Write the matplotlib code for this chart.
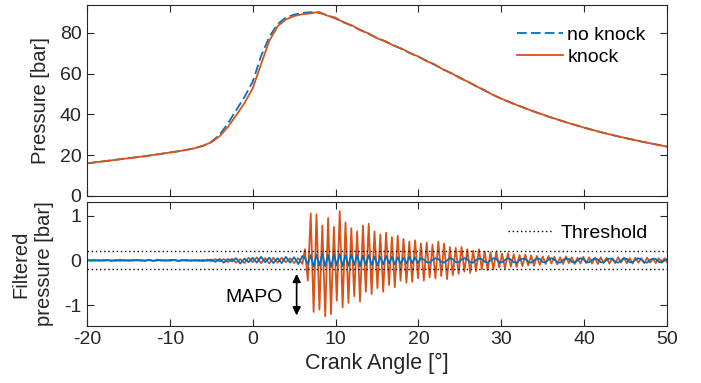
import matplotlib
matplotlib.use('Agg')
import matplotlib.pyplot as plt
import numpy as np

plt.rcParams['font.family'] = ['Liberation Sans', 'DejaVu Sans']
plt.rcParams['axes.unicode_minus'] = False
plt.rcParams['lines.scale_dashes'] = False

# --- cylinder pressure, 1 deg steps (-20 .. 50) ---
uhel = np.arange(-20, 51)
p_noknock = [16.0, 16.5, 17.0, 17.5, 18.0, 18.5, 19.0, 19.5, 20.1, 20.7,
             21.3, 21.9, 22.6, 23.4, 24.6, 26.5, 30.0, 35.5, 42.0, 48.5,
             56.0, 68.5, 78.0, 84.2, 87.5, 88.9, 89.7, 90.1, 89.8, 88.6,
             87.0, 85.2, 83.3, 81.4, 79.4, 77.5, 75.7, 73.9, 72.0, 70.1,
             68.2, 66.3, 64.2, 62.1, 60.0, 58.0, 55.9, 53.8, 51.7, 49.6,
             47.7, 46.0, 44.4, 42.8, 41.3, 39.9, 38.5, 37.2, 35.9, 34.7,
             33.5, 32.4, 31.3, 30.3, 29.3, 28.4, 27.5, 26.6, 25.8, 25.0,
             24.2]
p_knock = [16.0, 16.5, 17.0, 17.5, 18.0, 18.5, 19.0, 19.5, 20.1, 20.7,
           21.3, 21.9, 22.6, 23.4, 24.6, 26.3, 29.3, 33.8, 39.5, 45.5,
           52.8, 64.5, 76.0, 83.2, 86.5, 88.2, 89.1, 89.5, 90.2, 88.4,
           87.4, 85.0, 83.6, 81.2, 79.7, 77.3, 75.9, 73.7, 72.2, 69.9,
           68.4, 66.1, 64.4, 61.9, 60.2, 57.8, 56.0, 53.7, 51.8, 49.5,
           47.7, 46.0, 44.4, 42.8, 41.3, 39.9, 38.5, 37.2, 35.9, 34.7,
           33.5, 32.4, 31.3, 30.3, 29.3, 28.4, 27.5, 26.6, 25.8, 25.0,
           24.2]

# --- filtered pressure before knock onset, 0.5 deg steps (-20 .. 6) ---
f_knock_pre = [0.00, 0.01, -0.01, 0.01, -0.01, 0.01, 0.00, -0.01, 0.02, -0.01,
               0.01, -0.01, 0.01, -0.01, 0.00, 0.01, -0.01, 0.02, -0.01, 0.01,
               -0.01, 0.01, -0.01, 0.01, -0.01, 0.01, -0.01, 0.01, -0.02,
               0.02, -0.02, 0.03, -0.02, 0.03, -0.04, 0.04, -0.05, 0.03, -0.06,
               0.06, -0.04, 0.07, -0.06, 0.05, -0.07, 0.06, -0.05, 0.06, -0.04,
               0.05, -0.06, 0.05, -0.08]
f_noknock_pre = [0.01, -0.01, 0.01, -0.01, 0.01, 0.00, -0.01, 0.01, -0.01, 0.01,
                 -0.01, 0.01, 0.00, 0.01, -0.01, 0.01, -0.01, 0.00, 0.01, -0.01,
                 0.01, 0.01, -0.01, 0.00, 0.01, -0.01, 0.01, -0.01, 0.01,
                 -0.01, 0.02, -0.03, 0.03, -0.05, 0.03, -0.02, 0.05, -0.07, 0.04,
                 -0.04, 0.06, -0.05, 0.08, -0.04, 0.06, -0.06, 0.05, -0.06, 0.08,
                 -0.05, 0.07, -0.08, 0.10]

# --- filtered pressure peaks/troughs after onset, every 0.35 deg from 6.3 ---
f_knock_post = [0.25, -0.45, 1.05, -1.15, 1.03, -1.10, 0.78, -1.25, 0.95, -1.20,
                0.75, -0.90, 1.10, -1.05, 0.85, -0.95, 0.72, -0.80, 0.65, -0.92,
                0.78, -0.70, 0.82, -0.75, 0.65, -0.62, 0.58, -0.70, 0.62, -0.55,
                0.52, -0.60, 0.55, -0.45, 0.48, -0.50, 0.42, -0.48, 0.45, -0.40,
                0.38, -0.45, 0.40, -0.38, 0.35, -0.40, 0.42, -0.35, 0.38, -0.42,
                0.30, -0.33, 0.28, -0.30, 0.30, -0.25, 0.25, -0.28, 0.22, -0.24,
                0.25, -0.20, 0.20, -0.22, 0.18, -0.20, 0.20, -0.16, 0.15, -0.18,
                0.16, -0.14, 0.14, -0.15, 0.12, -0.13, 0.13, -0.11, 0.11, -0.12,
                0.10, -0.10, 0.09, -0.08, 0.10, -0.07, 0.08, -0.09, 0.07, -0.08,
                0.09, -0.06, 0.07, -0.08, 0.06, -0.07, 0.08, -0.06, 0.07, -0.07,
                0.06, -0.08, 0.07, -0.05, 0.06, -0.07, 0.05, -0.06, 0.07, -0.05,
                0.06, -0.06, 0.05, -0.07, 0.06, -0.05, 0.05, -0.06, 0.06, -0.05,
                0.04, -0.06, 0.05, -0.04, 0.05, -0.05]
f_noknock_post = [0.05, -0.08, 0.12, -0.14, 0.13, -0.12, 0.15, -0.13, 0.12, -0.15,
                  0.13, -0.11, 0.14, -0.13, 0.12, -0.12, 0.13, -0.10, 0.12, -0.13,
                  0.11, -0.10, 0.12,
                  -0.10, 0.09, -0.11, 0.08, -0.09, 0.10, -0.07, 0.08, -0.09, 0.07,
                  -0.08, 0.06, -0.07, 0.08, -0.06, 0.07, -0.06,
                  0.05, 0.02, -0.04, -0.05, 0.01, 0.05, 0.03, -0.03, -0.05, 0.00,
                  0.05, 0.03, -0.04, -0.04, 0.02, 0.05, 0.02, -0.04, -0.05, 0.01,
                  0.04, 0.03, -0.03, -0.05, 0.00, 0.05, 0.03, -0.04, -0.04, 0.01,
                  0.05, 0.02, -0.04, -0.05, 0.01, 0.04, 0.03, -0.03, -0.05, 0.00,
                  0.05, 0.03, -0.04, -0.04, 0.02, 0.05, 0.02, -0.04, -0.05, 0.01,
                  0.04, 0.03, -0.03, -0.05, 0.00, 0.05, 0.03, -0.04, -0.04, 0.01,
                  0.05, 0.02, -0.04, -0.05, 0.01, 0.04, 0.03, -0.03, -0.05, 0.00,
                  0.05, 0.03, -0.04, -0.04, 0.02, 0.05, 0.02, -0.04, -0.05, 0.01,
                  0.04, 0.03, -0.03, -0.05, 0.00, 0.04]

prah = 0.2        # threshold [bar]
mapo_uhel = 5.3   # where the MAPO arrow sits
mapo_od, mapo_do = -0.30, -1.23

uhel_pre = np.linspace(-20, 6, len(f_knock_pre))
uhel_post = np.linspace(6.3, 6.3 + 0.35 * (len(f_knock_post) - 1), len(f_knock_post))
uhel_f = np.concatenate([uhel_pre, uhel_post])
f_knock = np.concatenate([f_knock_pre, f_knock_post])
f_noknock = np.concatenate([f_noknock_pre, f_noknock_post])

modra = '#0072BD'
oranz = '#D95319'
seda = '#262626'
fs = 14

fig = plt.figure(figsize=(7.01, 3.83), dpi=100)
ax1 = fig.add_axes([0.1241, 0.4883, 0.8274, 0.4986])
ax2 = fig.add_axes([0.1241, 0.1496, 0.8274, 0.3222])

# horni graf - tlak
ax1.plot(uhel, p_noknock, color=modra, lw=1.3, ls=(0, (7, 3)), label='no knock')
ax1.plot(uhel, p_knock, color=oranz, lw=1.3, label='knock')
ax1.set_xlim(-20, 50)
ax1.set_ylim(0, 93.6)
ax1.set_yticks([0, 20, 40, 60, 80])
ax1.set_xticks(range(-20, 51, 10))
ax1.set_xticklabels([])
ax1.set_ylabel('Pressure [bar]', fontsize=fs + 0.5, color=seda, labelpad=7)
ax1.legend(loc='center left', bbox_to_anchor=(0.741, 0.785), frameon=False,
           fontsize=fs, handlelength=2.4, handletextpad=0.2, borderpad=0,
           borderaxespad=0, labelspacing=0.2)

# dolni graf - filtrovany tlak
ax2.plot(uhel_f, f_knock, color=oranz, lw=1.3)
ax2.plot(uhel_f, f_noknock, color=modra, lw=1.3)
ax2.axhline(prah, color='black', lw=1, ls=(0, (1, 2)), label='Threshold')
ax2.axhline(-prah, color='black', lw=1, ls=(0, (1, 2)))
ax2.annotate('', xy=(mapo_uhel, mapo_od), xytext=(mapo_uhel, mapo_do),
             arrowprops=dict(arrowstyle='<|-|>', color='black', lw=1.2,
                             mutation_scale=12, shrinkA=0, shrinkB=0))
ax2.text(3.6, -0.84, 'MAPO', fontsize=fs, ha='right', va='center')
ax2.set_xlim(-20, 50)
ax2.set_ylim(-1.46, 1.3)
ax2.set_yticks([-1, 0, 1])
ax2.set_xticks(range(-20, 51, 10))
ax2.set_xlabel('Crank Angle [°]', fontsize=fs + 1.5, color=seda, labelpad=3)
ax2.set_ylabel('Filtered\npressure [bar]', fontsize=fs + 0.5, color=seda,
               labelpad=7, linespacing=1.35)
ax2.legend(loc='center left', bbox_to_anchor=(0.726, 0.751), frameon=False,
           fontsize=fs, handlelength=2.3, handletextpad=0.4, borderpad=0,
           borderaxespad=0)

for ax in (ax1, ax2):
    ax.tick_params(direction='in', top=True, right=True, length=5, width=0.8,
                   labelsize=fs, colors=seda, pad=4)
    for s in ax.spines.values():
        s.set_color(seda)
        s.set_linewidth(0.8)

fig.savefig('out.png', dpi=100)
